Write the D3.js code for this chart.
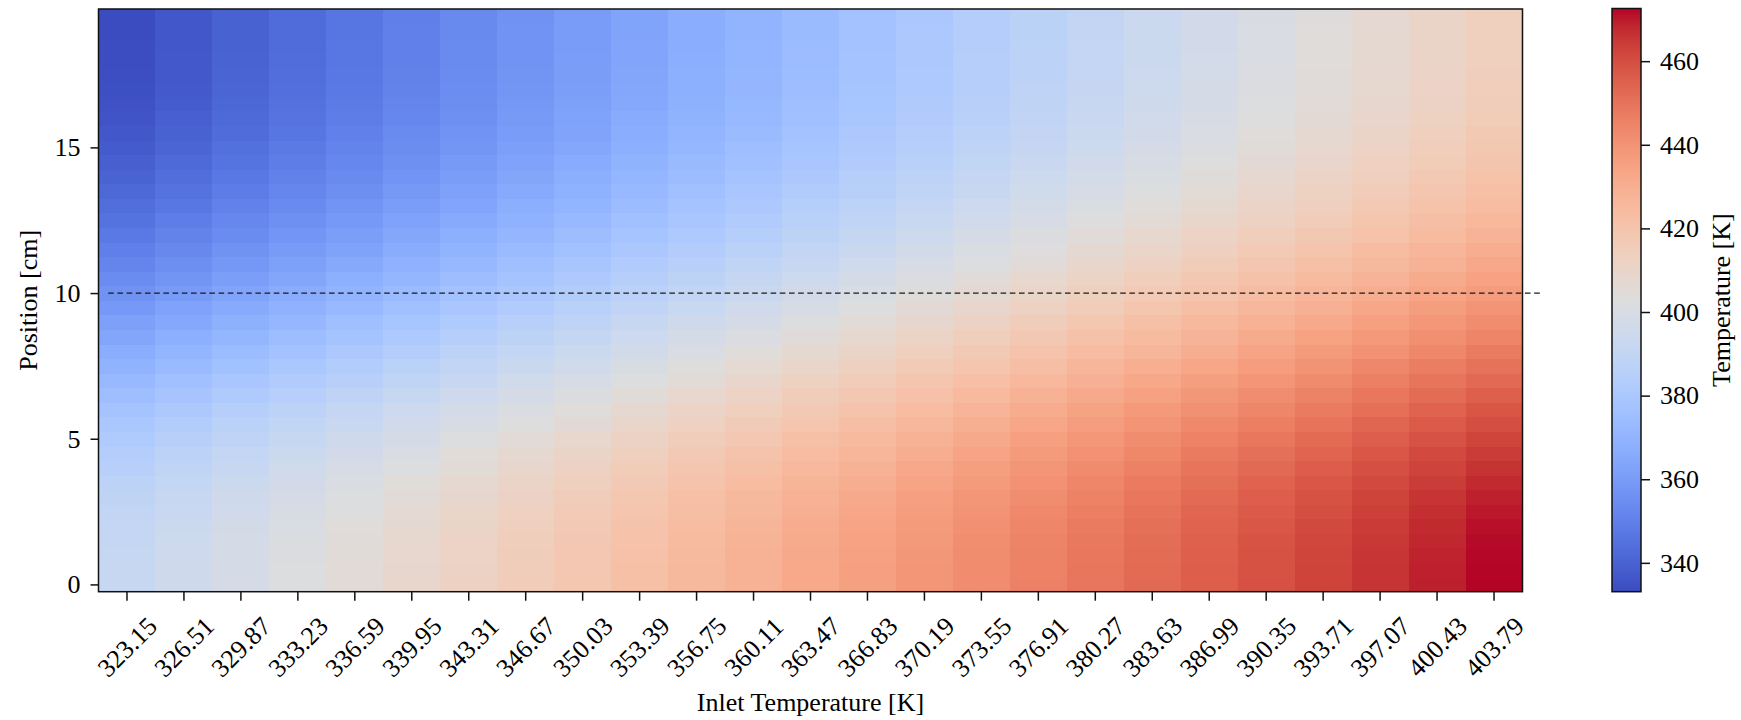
<!DOCTYPE html>
<html><head><meta charset="utf-8">
<script src="https://cdn.jsdelivr.net/npm/d3@7"></script>
<style>
body{margin:0;background:#fff}
text{font-family:"Liberation Serif","Times New Roman",Times,serif;fill:#000}
</style>
</head><body><svg id="chart" width="1741" height="720"></svg>
<script>
// ---------------- data ----------------
const inletTemperatures = [323.15, 326.51, 329.87, 333.23, 336.59, 339.95, 343.31, 346.67, 350.03, 353.39,
  356.75, 360.11, 363.47, 366.83, 370.19, 373.55, 376.91, 380.27, 383.63, 386.99, 390.35, 393.71, 397.07, 400.43, 403.79];

const positions = [0, 0.5, 1, 1.5, 2, 2.5, 3, 3.5, 4, 4.5, 5, 5.5, 6, 6.5, 7, 7.5, 8, 8.5, 9, 9.5,
  10, 10.5, 11, 11.5, 12, 12.5, 13, 13.5, 14, 14.5, 15, 15.5, 16, 16.5, 17, 17.5, 18, 18.5, 19, 19.5];

// temperature [K], one row per position (same order as positions), one value per inlet temperature
const temperatureField = [
  [392.0,395.3,398.7,402.0,405.4,408.8,412.1,415.5,418.8,422.2,425.6,428.9,432.3,435.6,439.0,442.4,445.7,449.1,452.4,455.8,459.2,462.5,465.9,469.2,472.6],
  [391.9,395.2,398.6,401.9,405.3,408.7,412.0,415.4,418.7,422.1,425.5,428.8,432.2,435.5,438.9,442.3,445.6,449.0,452.3,455.7,459.1,462.4,465.8,469.1,472.5],
  [391.6,394.9,398.3,401.6,405.0,408.4,411.7,415.1,418.4,421.8,425.2,428.5,431.9,435.2,438.6,442.0,445.3,448.7,452.0,455.4,458.8,462.1,465.5,468.8,472.2],
  [391.2,394.5,397.9,401.2,404.6,408.0,411.3,414.7,418.0,421.4,424.8,428.1,431.5,434.8,438.2,441.6,444.9,448.3,451.6,455.0,458.4,461.7,465.1,468.4,471.8],
  [390.5,393.8,397.2,400.5,403.9,407.3,410.6,414.0,417.3,420.7,424.1,427.4,430.8,434.1,437.5,440.9,444.2,447.6,450.9,454.3,457.7,461.0,464.4,467.7,471.1],
  [389.6,392.9,396.3,399.6,403.0,406.4,409.7,413.1,416.4,419.8,423.2,426.5,429.9,433.2,436.6,440.0,443.3,446.7,450.0,453.4,456.8,460.1,463.5,466.8,470.2],
  [388.5,391.8,395.2,398.5,401.9,405.3,408.6,412.0,415.3,418.7,422.1,425.4,428.8,432.1,435.5,438.9,442.2,445.6,448.9,452.3,455.7,459.0,462.4,465.7,469.1],
  [387.1,390.4,393.8,397.1,400.5,403.9,407.2,410.6,413.9,417.3,420.7,424.0,427.4,430.7,434.1,437.5,440.8,444.2,447.5,450.9,454.3,457.6,461.0,464.3,467.7],
  [385.5,388.8,392.2,395.5,398.9,402.3,405.6,409.0,412.3,415.7,419.1,422.4,425.8,429.1,432.5,435.9,439.2,442.6,445.9,449.3,452.7,456.0,459.4,462.7,466.1],
  [383.7,387.0,390.4,393.7,397.1,400.5,403.8,407.2,410.5,413.9,417.3,420.6,424.0,427.3,430.7,434.1,437.4,440.8,444.1,447.5,450.9,454.2,457.6,460.9,464.3],
  [381.7,385.0,388.4,391.7,395.1,398.5,401.8,405.2,408.5,411.9,415.3,418.6,422.0,425.3,428.7,432.1,435.4,438.8,442.1,445.5,448.9,452.2,455.6,458.9,462.3],
  [379.5,382.8,386.2,389.5,392.9,396.3,399.6,403.0,406.3,409.7,413.1,416.4,419.8,423.1,426.5,429.9,433.2,436.6,439.9,443.3,446.7,450.0,453.4,456.7,460.1],
  [377.2,380.5,383.9,387.2,390.6,394.0,397.3,400.7,404.0,407.4,410.8,414.1,417.5,420.8,424.2,427.6,430.9,434.3,437.6,441.0,444.4,447.7,451.1,454.4,457.8],
  [374.8,378.1,381.5,384.8,388.2,391.6,394.9,398.3,401.6,405.0,408.4,411.7,415.1,418.4,421.8,425.2,428.5,431.9,435.2,438.6,442.0,445.3,448.7,452.0,455.4],
  [372.2,375.5,378.9,382.2,385.6,389.0,392.3,395.7,399.0,402.4,405.8,409.1,412.5,415.8,419.2,422.6,425.9,429.3,432.6,436.0,439.4,442.7,446.1,449.4,452.8],
  [369.6,372.9,376.3,379.6,383.0,386.4,389.7,393.1,396.4,399.8,403.2,406.5,409.9,413.2,416.6,420.0,423.3,426.7,430.0,433.4,436.8,440.1,443.5,446.8,450.2],
  [366.9,370.2,373.6,376.9,380.3,383.7,387.0,390.4,393.7,397.1,400.5,403.8,407.2,410.5,413.9,417.3,420.6,424.0,427.3,430.7,434.1,437.4,440.8,444.1,447.5],
  [364.2,367.5,370.9,374.2,377.6,381.0,384.3,387.7,391.0,394.4,397.8,401.1,404.5,407.8,411.2,414.6,417.9,421.3,424.6,428.0,431.4,434.7,438.1,441.4,444.8],
  [361.6,364.9,368.3,371.6,375.0,378.4,381.7,385.1,388.4,391.8,395.2,398.5,401.9,405.2,408.6,412.0,415.3,418.7,422.0,425.4,428.8,432.1,435.5,438.8,442.2],
  [359.0,362.3,365.7,369.0,372.4,375.8,379.1,382.5,385.8,389.2,392.6,395.9,399.3,402.6,406.0,409.4,412.7,416.1,419.4,422.8,426.2,429.5,432.9,436.2,439.6],
  [356.5,359.8,363.2,366.5,369.9,373.3,376.6,380.0,383.3,386.7,390.1,393.4,396.8,400.1,403.5,406.9,410.2,413.6,416.9,420.3,423.7,427.0,430.4,433.7,437.1],
  [354.1,357.4,360.8,364.1,367.5,370.9,374.2,377.6,380.9,384.3,387.7,391.0,394.4,397.7,401.1,404.5,407.8,411.2,414.5,417.9,421.3,424.6,428.0,431.3,434.7],
  [351.8,355.1,358.5,361.8,365.2,368.6,371.9,375.3,378.6,382.0,385.4,388.7,392.1,395.4,398.8,402.2,405.5,408.9,412.2,415.6,419.0,422.3,425.7,429.0,432.4],
  [349.6,352.9,356.3,359.6,363.0,366.4,369.7,373.1,376.4,379.8,383.2,386.5,389.9,393.2,396.6,400.0,403.3,406.7,410.0,413.4,416.8,420.1,423.5,426.8,430.2],
  [347.5,350.8,354.2,357.5,360.9,364.3,367.6,371.0,374.3,377.7,381.1,384.4,387.8,391.1,394.5,397.9,401.2,404.6,407.9,411.3,414.7,418.0,421.4,424.7,428.1],
  [345.5,348.8,352.2,355.5,358.9,362.3,365.6,369.0,372.3,375.7,379.1,382.4,385.8,389.1,392.5,395.9,399.2,402.6,405.9,409.3,412.7,416.0,419.4,422.7,426.1],
  [343.7,347.0,350.4,353.7,357.1,360.5,363.8,367.2,370.5,373.9,377.3,380.6,384.0,387.3,390.7,394.1,397.4,400.8,404.1,407.5,410.9,414.2,417.6,420.9,424.3],
  [342.0,345.3,348.7,352.0,355.4,358.8,362.1,365.5,368.8,372.2,375.6,378.9,382.3,385.6,389.0,392.4,395.7,399.1,402.4,405.8,409.2,412.5,415.9,419.2,422.6],
  [340.4,343.7,347.1,350.4,353.8,357.2,360.5,363.9,367.2,370.6,374.0,377.3,380.7,384.0,387.4,390.8,394.1,397.5,400.8,404.2,407.6,410.9,414.3,417.6,421.0],
  [339.0,342.3,345.7,349.0,352.4,355.8,359.1,362.5,365.8,369.2,372.6,375.9,379.3,382.6,386.0,389.4,392.7,396.1,399.4,402.8,406.2,409.5,412.9,416.2,419.6],
  [337.7,341.0,344.4,347.7,351.1,354.5,357.8,361.2,364.5,367.9,371.3,374.6,378.0,381.3,384.7,388.1,391.4,394.8,398.1,401.5,404.9,408.2,411.6,414.9,418.3],
  [336.6,339.9,343.3,346.6,350.0,353.4,356.7,360.1,363.4,366.8,370.2,373.5,376.9,380.2,383.6,387.0,390.3,393.7,397.0,400.4,403.8,407.1,410.5,413.8,417.2],
  [335.6,338.9,342.3,345.6,349.0,352.4,355.7,359.1,362.4,365.8,369.2,372.5,375.9,379.2,382.6,386.0,389.3,392.7,396.0,399.4,402.8,406.1,409.5,412.8,416.2],
  [334.8,338.1,341.5,344.8,348.2,351.6,354.9,358.3,361.6,365.0,368.4,371.7,375.1,378.4,381.8,385.2,388.5,391.9,395.2,398.6,402.0,405.3,408.7,412.0,415.4],
  [334.2,337.5,340.9,344.2,347.6,351.0,354.3,357.7,361.0,364.4,367.8,371.1,374.5,377.8,381.2,384.6,387.9,391.3,394.6,398.0,401.4,404.7,408.1,411.4,414.8],
  [333.8,337.1,340.5,343.8,347.2,350.6,353.9,357.3,360.6,364.0,367.4,370.7,374.1,377.4,380.8,384.2,387.5,390.9,394.2,397.6,401.0,404.3,407.7,411.0,414.4],
  [333.5,336.8,340.2,343.5,346.9,350.3,353.6,357.0,360.3,363.7,367.1,370.4,373.8,377.1,380.5,383.9,387.2,390.6,393.9,397.3,400.7,404.0,407.4,410.7,414.1],
  [333.3,336.6,340.0,343.3,346.7,350.1,353.4,356.8,360.1,363.5,366.9,370.2,373.6,376.9,380.3,383.7,387.0,390.4,393.7,397.1,400.5,403.8,407.2,410.5,413.9],
  [333.2,336.5,339.9,343.2,346.6,350.0,353.3,356.7,360.0,363.4,366.8,370.1,373.5,376.8,380.2,383.6,386.9,390.3,393.6,397.0,400.4,403.7,407.1,410.4,413.8],
  [333.1,336.4,339.8,343.1,346.5,349.9,353.2,356.6,359.9,363.3,366.7,370.0,373.4,376.7,380.1,383.5,386.8,390.2,393.5,396.9,400.3,403.6,407.0,410.3,413.7]
];

const positionTicks = [0, 5, 10, 15];
const colorbarTicks = [340, 360, 380, 400, 420, 440, 460];
const referencePosition = 10;
const referenceLineExtent = [-0.33, 24.83]; // in column units

const xLabel = "Inlet Temperature [K]";
const yLabel = "Position [cm]";
const colorbarLabel = "Temperature [K]";

// matplotlib "coolwarm" colormap, 33 evenly spaced stops
const coolwarmStops = ["#3b4cc0","#445acc","#4d68d7","#5775e1","#6282ea","#6c8ef1","#779af7","#82a5fb",
  "#8db0fe","#98b9ff","#a3c2ff","#aec9fd","#b8d0f9","#c2d5f4","#ccd9ee","#d5dbe6","#dddddd","#e5d8d1",
  "#ecd3c5","#f1ccb8","#f5c4ac","#f7bba0","#f7b194","#f7a687","#f49a7b","#f18d6f","#ec7f63","#e57058",
  "#de604d","#d55042","#cb3e38","#c0282f","#b40426"];

// ---------------- layout ----------------
const plot = {left: 98.5, right: 1522.5, top: 9, bottom: 591.7};
const cbar = {left: 1612, right: 1641, top: 8.5, bottom: 591.7};
const FS = 26;

const svg = d3.select("#chart");

const fmt = d3.format(".2f");
const x = d3.scaleBand().domain(inletTemperatures.map(fmt)).range([plot.left, plot.right]).padding(0);
const xCol = d3.scaleLinear().domain([-0.5, inletTemperatures.length - 0.5]).range([plot.left, plot.right]);
const half = (positions[1] - positions[0]) / 2;
const y = d3.scaleLinear()
  .domain([positions[0] - half, positions[positions.length - 1] + half])
  .range([plot.bottom, plot.top]);

const allValues = temperatureField.flat();
const vmin = d3.min(allValues), vmax = d3.max(allValues);
const color = d3.scaleLinear()
  .domain(coolwarmStops.map((_, k) => vmin + (vmax - vmin) * k / (coolwarmStops.length - 1)))
  .range(coolwarmStops)
  .interpolate(d3.interpolateRgb)
  .clamp(true);

// heatmap cells
const cells = [];
temperatureField.forEach((row, i) => row.forEach((v, j) => cells.push({pos: positions[i], tin: fmt(inletTemperatures[j]), v})));
svg.append("g").attr("shape-rendering", "crispEdges")
  .selectAll("rect").data(cells).join("rect")
  .attr("x", d => x(d.tin))
  .attr("width", x.bandwidth() + 0.5)
  .attr("y", d => y(d.pos + half))
  .attr("height", d => y(d.pos - half) - y(d.pos + half) + 0.5)
  .attr("fill", d => color(d.v));

// reference dashed line
svg.append("line")
  .attr("x1", xCol(referenceLineExtent[0])).attr("x2", xCol(referenceLineExtent[1]))
  .attr("y1", y(referencePosition)).attr("y2", y(referencePosition))
  .attr("stroke", "#1a1a1a").attr("stroke-width", 1.3).attr("stroke-dasharray", "5.6,3.6");

// frame
svg.append("rect")
  .attr("x", plot.left).attr("y", plot.top)
  .attr("width", plot.right - plot.left).attr("height", plot.bottom - plot.top)
  .attr("fill", "none").attr("stroke", "#111").attr("stroke-width", 1.5);

// x axis
const gx = svg.append("g").attr("transform", `translate(0,${plot.bottom})`)
  .call(d3.axisBottom(x).tickSize(9).tickSizeOuter(0));
gx.select(".domain").remove();
gx.selectAll(".tick line").attr("stroke", "#111").attr("stroke-width", 1.5);
gx.selectAll(".tick text")
  .attr("font-size", FS).attr("fill", "#000")
  .attr("y", 0).attr("dy", "0.35em").attr("text-anchor", "middle")
  .attr("transform", "translate(0,55) rotate(-45)");

// y axis
const gy = svg.append("g").attr("transform", `translate(${plot.left},0)`)
  .call(d3.axisLeft(y).tickValues(positionTicks).tickFormat(d3.format("d")).tickSize(8).tickPadding(10).tickSizeOuter(0));
gy.select(".domain").remove();
gy.selectAll(".tick line").attr("stroke", "#111").attr("stroke-width", 1.5);
gy.selectAll(".tick text").attr("font-size", FS).attr("fill", "#000");

// axis labels
svg.append("text").attr("x", (plot.left + plot.right) / 2).attr("y", 710.5)
  .attr("text-anchor", "middle").attr("font-size", FS).text(xLabel);
svg.append("text")
  .attr("transform", `translate(37,${(plot.top + plot.bottom) / 2}) rotate(-90)`)
  .attr("text-anchor", "middle").attr("font-size", FS).text(yLabel);

// colorbar
const cb = d3.scaleLinear().domain([vmin, vmax]).range([cbar.bottom, cbar.top]);
const defs = svg.append("defs");
const grad = defs.append("linearGradient").attr("id", "cbgrad")
  .attr("x1", 0).attr("y1", 1).attr("x2", 0).attr("y2", 0);
grad.selectAll("stop").data(coolwarmStops).join("stop")
  .attr("offset", (_, k) => k / (coolwarmStops.length - 1))
  .attr("stop-color", d => d);
svg.append("rect")
  .attr("x", cbar.left).attr("y", cbar.top)
  .attr("width", cbar.right - cbar.left).attr("height", cbar.bottom - cbar.top)
  .attr("fill", "url(#cbgrad)").attr("stroke", "#111").attr("stroke-width", 1.5);
const gc = svg.append("g").attr("transform", `translate(${cbar.right},0)`)
  .call(d3.axisRight(cb).tickValues(colorbarTicks).tickSize(9).tickPadding(10).tickSizeOuter(0));
gc.select(".domain").remove();
gc.selectAll(".tick line").attr("stroke", "#111").attr("stroke-width", 1.5);
gc.selectAll(".tick text").attr("font-size", FS).attr("fill", "#000");
svg.append("text")
  .attr("transform", `translate(1730,${(cbar.top + cbar.bottom) / 2}) rotate(-90)`)
  .attr("text-anchor", "middle").attr("font-size", FS).text(colorbarLabel);
</script>
</body></html>
